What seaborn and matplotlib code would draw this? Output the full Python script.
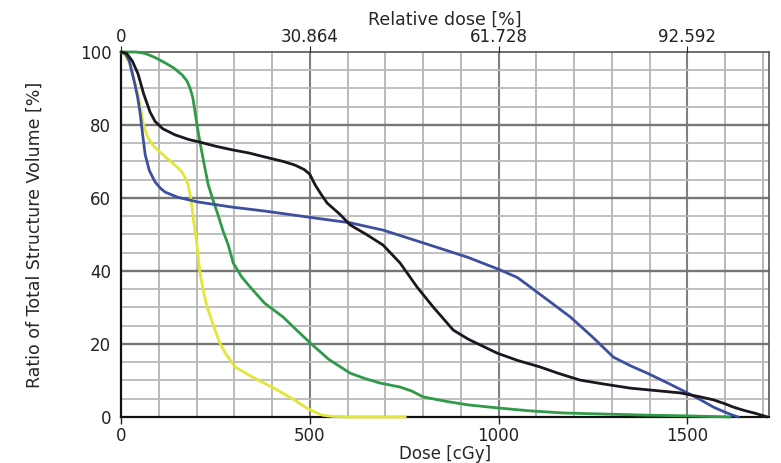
import numpy as np
import pandas as pd
import matplotlib
matplotlib.use('Agg')
import matplotlib.pyplot as plt
import seaborn as sns

# DVH curves: dose in cGy, volume in %
black_dose = [0, 15, 30, 45, 60, 77, 90, 110, 143, 180, 209, 250, 294, 340, 382, 430, 461, 485, 500,
              514, 530, 546, 580, 607, 650, 694, 739, 784, 827, 880, 920, 996, 1050, 1110, 1160,
              1216, 1280, 1349, 1420, 1481, 1530, 1569, 1600, 1622, 1650, 1680, 1712]
black_vol = [100, 99.6, 97.5, 94, 88.5, 83.5, 81, 79, 77.3, 76, 75.3, 74.2, 73.2, 72.3, 71.2, 70, 69, 67.8, 66.5,
             63.6, 61, 58.6, 55.5, 52.6, 50, 47.1, 42.2, 35.6, 30.1, 23.8, 21.3, 17.5, 15.5, 13.7, 11.9,
             10.1, 9, 7.9, 7.2, 6.6, 5.6, 4.7, 3.6, 2.7, 1.8, 1, 0]

blue_dose = [0, 12, 22, 30, 37, 44, 50, 57, 64, 75, 90, 105, 117, 150, 204, 294, 382, 514, 607, 694,
             800, 917, 1004, 1050, 1084, 1137, 1190, 1250, 1304, 1350, 1394, 1450, 1500, 1535, 1569,
             1600, 1620, 1635]
blue_vol = [100, 99.5, 97.5, 94, 91, 87.5, 83.6, 77.5, 71.8, 67.5, 64.4, 62.6, 61.6, 60.2, 58.9, 57.5, 56.4,
            54.5, 53.2, 51.2, 47.7, 43.8, 40.3, 38.2, 35.6, 31.5, 27.4, 21.8, 16.4, 14, 12, 9.2, 6.6,
            4.7, 2.7, 1.3, 0.5, 0]

green_dose = [0, 40, 64, 90, 117, 140, 162, 175, 183, 190, 196, 202, 209, 220, 231, 244, 257, 270, 284,
              297, 320, 342, 380, 429, 465, 501, 550, 607, 650, 686, 739, 770, 800, 860, 920, 996, 1080,
              1171, 1280, 1394, 1500, 1614]
green_vol = [100, 100, 99.6, 98.5, 97, 95.6, 93.7, 92, 90, 87.5, 83.6, 79.5, 75.3, 69.3, 63.6, 59.3, 55.3,
             51, 47.1, 42.2, 38.3, 35.6, 31.2, 27.4, 23.8, 20.3, 15.8, 12, 10.4, 9.3, 8.2, 7.1, 5.5,
             4.3, 3.3, 2.5, 1.7, 1.1, 0.8, 0.5, 0.3, 0]

yellow_dose = [0, 12, 24, 35, 45, 52, 58, 65, 72, 85, 103, 120, 143, 160, 170, 178, 183, 188, 191, 196,
               201, 209, 218, 228, 249, 262, 276, 302, 330, 363, 400, 427, 460, 488, 510, 533, 560,
               600, 680, 753]
yellow_vol = [100, 99, 96.4, 92.3, 88.2, 84.5, 80.8, 78.2, 76.4, 74.4, 72.6, 71, 69, 67.3, 65.5, 63.5, 60.8,
              57.5, 54.5, 51, 47.1, 39.5, 34.5, 30.1, 23.8, 20.2, 17.5, 13.7, 12, 10.1, 8.2, 6.6, 4.6,
              2.7, 1.5, 0.5, 0.15, 0, 0, 0]

dose_ticks = [0, 500, 1000, 1500]
rel_labels = ['0', '30.864', '61.728', '92.592']
vol_ticks = [0, 20, 40, 60, 80, 100]

sns.set_style('white')
plt.rcParams['font.family'] = ['DejaVu Sans']

fig = plt.figure(figsize=(7.81, 4.63), dpi=100)
ax = fig.add_axes([0.155, 0.0994, 0.83, 0.7883])

# grid: fine every 100 cGy / 5 %, darker every 500 cGy / 20 %
for d in range(100, 1800, 100):
    major = d % 500 == 0
    ax.axvline(d, color='#808080' if major else '#b4b4b4', lw=1.5 if major else 1.3, zorder=1)
for v in range(5, 100, 5):
    major = v % 20 == 0
    ax.axhline(v, color='#777777' if major else '#bababa', lw=1.7 if major else 1.3, zorder=1)

curves = [
    (green_dose, green_vol, '#2f9a48'),
    (yellow_dose, yellow_vol, '#e2e637'),
    (blue_dose, blue_vol, '#3d4f9e'),
    (black_dose, black_vol, '#1c1620'),
]
for xs, ys, c in curves:
    sns.lineplot(x=xs, y=ys, color=c, lw=2, ax=ax, sort=False, clip_on=False, zorder=3)

ax.set_xlim(0, 1717)
ax.set_ylim(0, 100)
ax.set_xticks(dose_ticks)
ax.set_yticks(vol_ticks)
ax.tick_params(axis='both', direction='out', length=5, width=1, labelsize=12, colors='#222222')
ax.tick_params(axis='x', pad=2)
ax.tick_params(axis='y', pad=2)
ax.set_xlabel('Dose [cGy]', fontsize=12, labelpad=0)
ax.set_ylabel('Ratio of Total Structure Volume [%]', fontsize=12.5, labelpad=26)

for s in ['left', 'bottom']:
    ax.spines[s].set_color('#111111')
    ax.spines[s].set_linewidth(1.6)
for s in ['top', 'right']:
    ax.spines[s].set_color('#555555')
    ax.spines[s].set_linewidth(1.2)

top = ax.twiny()
top.set_xlim(ax.get_xlim())
top.set_xticks(dose_ticks)
top.set_xticklabels(rel_labels)
top.tick_params(axis='x', direction='out', length=4, labelsize=12, pad=0, colors='#222222')
top.set_xlabel('Relative dose [%]', fontsize=12.5, labelpad=3)
for s in top.spines.values():
    s.set_visible(False)

fig.savefig('out.png', dpi=100)
